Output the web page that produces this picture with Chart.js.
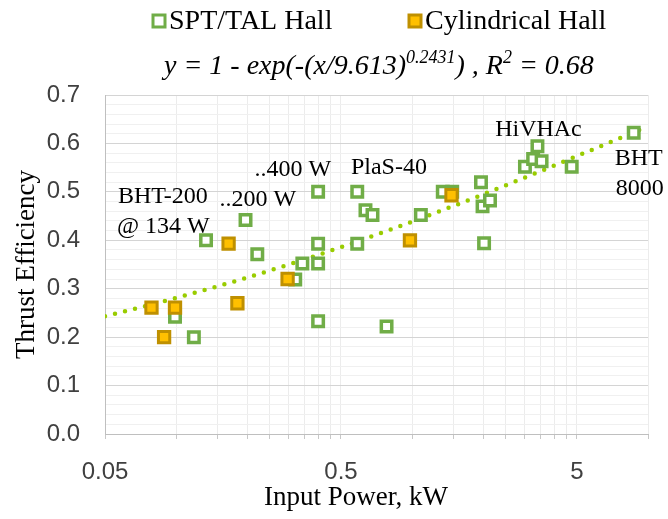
<!DOCTYPE html>
<html>
<head>
<meta charset="utf-8">
<script src="https://cdn.jsdelivr.net/npm/chart.js@4.4.1/dist/chart.umd.min.js"></script>
<style>
  html, body { margin: 0; padding: 0; background: #fff; }
  canvas { display: block; }
</style>
</head>
<body>
<canvas id="chart" width="668" height="519"></canvas>
<script>
// SPT/TAL Hall thrusters: input power (kW) and thrust efficiency
const sptPower = [0.099, 0.119, 0.134, 0.197, 0.221, 0.32, 0.343, 0.40, 0.40, 0.40, 0.40,
                  0.586, 0.586, 0.635, 0.68, 0.78, 1.09, 1.35, 1.48, 1.96, 1.99, 2.02, 2.14,
                  3.01, 3.26, 3.40, 3.54, 4.75, 8.7];
const sptEff   = [0.242, 0.20, 0.40, 0.442, 0.371, 0.319, 0.352, 0.50, 0.393, 0.352, 0.233,
                  0.50, 0.393, 0.462, 0.452, 0.222, 0.452, 0.50, 0.50, 0.520, 0.470, 0.394, 0.482,
                  0.552, 0.568, 0.594, 0.563, 0.552, 0.622];

// Cylindrical Hall thrusters
const cylPower = [0.0787, 0.089, 0.099, 0.167, 0.182, 0.297, 0.98, 1.47];
const cylEff   = [0.261, 0.20, 0.261, 0.393, 0.27, 0.320, 0.40, 0.493];

// Weibull-type fit: y = 1 - exp(-(x/scale)^shape)
const fitScale = 9.613;
const fitShape = 0.2431;
const fitR2 = '0.68';
const fitPower = [0.05, 0.06, 0.07, 0.08, 0.1, 0.12, 0.15, 0.2, 0.25, 0.3, 0.4, 0.5, 0.6, 0.8,
                  1, 1.25, 1.5, 2, 2.5, 3, 4, 5, 6, 8, 10];

const xTickLabels = [0.05, 0.5, 5];
const yTickLabels = [0, 0.1, 0.2, 0.3, 0.4, 0.5, 0.6, 0.7];

// thruster names written next to their points
const notes = [
  { text: 'BHT-200', x: 0.0567, y: 0.489 },
  { text: '@ 134 W', x: 0.0562, y: 0.428 },
  { text: '..200 W', x: 0.153, y: 0.484 },
  { text: '..400 W', x: 0.215, y: 0.545 },
  { text: 'PlaS-40', x: 0.551, y: 0.550 },
  { text: 'HiVHAc', x: 2.25, y: 0.628 },
  { text: 'BHT', x: 7.23, y: 0.568 },
  { text: '8000', x: 7.3, y: 0.507 }
];

const SERIF = '"Liberation Serif", "Times New Roman", serif';
const SANS = '"Liberation Sans", Arial, sans-serif';

const GREEN = '#70ad47';
const GOLD = '#ffc000';
const GOLD_EDGE = '#bf9000';
const TREND = '#99cc00';

const toPoints = (xs, ys) => xs.map((x, i) => ({ x: x, y: ys[i] }));
const fitEff = fitPower.map(p => 1 - Math.exp(-Math.pow(p / fitScale, fitShape)));
const round3 = v => Math.round(v * 1000) / 1000;

// Excel style log grid: a line at every multiple of the decade start
function logGrid(min, max) {
  const out = [];
  let start = min;
  while (start < max - 1e-9) {
    for (let k = 1; k <= 10; k++) {
      const v = round3(start * k);
      if (v > max + 1e-9) break;
      if (!out.includes(v)) out.push(v);
    }
    start = start * 10;
  }
  return out;
}

const annotations = {
  id: 'annotations',
  afterDatasetsDraw(chart) {
    const ctx = chart.ctx;
    const xs = chart.scales.x, ys = chart.scales.y;
    ctx.save();
    ctx.fillStyle = '#000';
    ctx.textBaseline = 'middle';
    ctx.textAlign = 'left';

    ctx.font = '24px ' + SERIF;
    notes.forEach(n => {
      ctx.fillText(n.text, xs.getPixelForValue(n.x), ys.getPixelForValue(n.y));
    });

    // legend
    const ds = chart.data.datasets;
    const items = [{ d: ds[0], x: 159 }, { d: ds[1], x: 415 }];
    ctx.font = '28px ' + SERIF;
    items.forEach(it => {
      ctx.lineWidth = 3;
      ctx.fillStyle = it.d.pointBackgroundColor;
      ctx.strokeStyle = it.d.pointBorderColor;
      ctx.fillRect(it.x - 6, 15, 12, 12);
      ctx.strokeRect(it.x - 6, 15, 12, 12);
      ctx.fillStyle = '#000';
      ctx.fillText(it.d.label, it.x + 10, 22);
    });

    // fit equation
    const parts = [
      ['y = 1 - exp(-(x/' + fitScale + ')', false],
      [String(fitShape), true],
      [') , R', false],
      ['2', true],
      [' = ' + fitR2, false]
    ];
    let ex = 164;
    const ey = 67;
    parts.forEach(p => {
      ctx.font = p[1] ? 'italic 18px ' + SERIF : 'italic 28px ' + SERIF;
      ctx.fillText(p[0], ex, p[1] ? ey - 9 : ey);
      ex += ctx.measureText(p[0]).width;
    });

    // x axis title
    ctx.font = '27px ' + SERIF;
    ctx.textAlign = 'center';
    ctx.fillText('Input Power, kW', 356, 498);
    ctx.restore();
  }
};

new Chart(document.getElementById('chart'), {
  type: 'scatter',
  data: {
    datasets: [{
      label: 'SPT/TAL Hall',
      data: toPoints(sptPower, sptEff),
      pointStyle: 'rect',
      pointRadius: 7.4,
      pointBorderWidth: 3.5,
      pointBorderColor: GREEN,
      pointBackgroundColor: '#ffffff',
      order: 1
    }, {
      label: 'Cylindrical Hall',
      data: toPoints(cylPower, cylEff),
      pointStyle: 'rect',
      pointRadius: 8,
      pointBorderWidth: 3,
      pointBorderColor: GOLD_EDGE,
      pointBackgroundColor: GOLD,
      order: 0
    }, {
      label: 'Fit',
      data: toPoints(fitPower, fitEff),
      showLine: true,
      pointRadius: 0,
      borderColor: TREND,
      borderWidth: 4.5,
      borderDash: [0, 10.3],
      borderCapStyle: 'round',
      fill: false,
      order: 2
    }]
  },
  options: {
    responsive: false,
    animation: false,
    layout: { padding: { top: 95, right: 20, left: 0, bottom: 0 } },
    plugins: {
      legend: { display: false },
      tooltip: { enabled: false }
    },
    scales: {
      x: {
        type: 'logarithmic',
        min: 0.05,
        max: 10,
        afterBuildTicks: s => { s.ticks = logGrid(0.05, 10).map(v => ({ value: v })); },
        afterFit: s => { s.height = 85; },
        ticks: {
          autoSkip: false,
          maxRotation: 0,
          padding: 19,
          color: '#404040',
          font: { family: SANS, size: 24 },
          callback: v => xTickLabels.includes(round3(v)) ? String(round3(v)) : ''
        },
        grid: { color: '#ececec', tickColor: '#c8c8c8', tickLength: 5, lineWidth: 1 },
        border: { color: '#bfbfbf' }
      },
      y: {
        min: 0,
        max: 0.7,
        afterBuildTicks: s => {
          const t = [];
          for (let i = 0; i <= 35; i++) t.push({ value: round3(i * 0.02) });
          s.ticks = t;
        },
        afterFit: s => { s.width = 105; },
        ticks: {
          autoSkip: false,
          padding: 25,
          color: '#404040',
          font: { family: SANS, size: 24 },
          callback: v => {
            const hit = yTickLabels.find(t => Math.abs(t - v) < 1e-6);
            return hit === undefined ? '' : hit.toFixed(1);
          }
        },
        grid: {
          drawTicks: false,
          color: c => yTickLabels.some(t => Math.abs(t - c.tick.value) < 1e-6) ? '#d4d4d4' : '#f0f0f0'
        },
        border: { color: '#bfbfbf' },
        title: {
          display: true,
          text: 'Thrust Efficiency',
          color: '#000',
          font: { family: SERIF, size: 27 },
          padding: { top: 11, bottom: 0 }
        }
      }
    }
  },
  plugins: [annotations]
});
</script>
</body>
</html>
